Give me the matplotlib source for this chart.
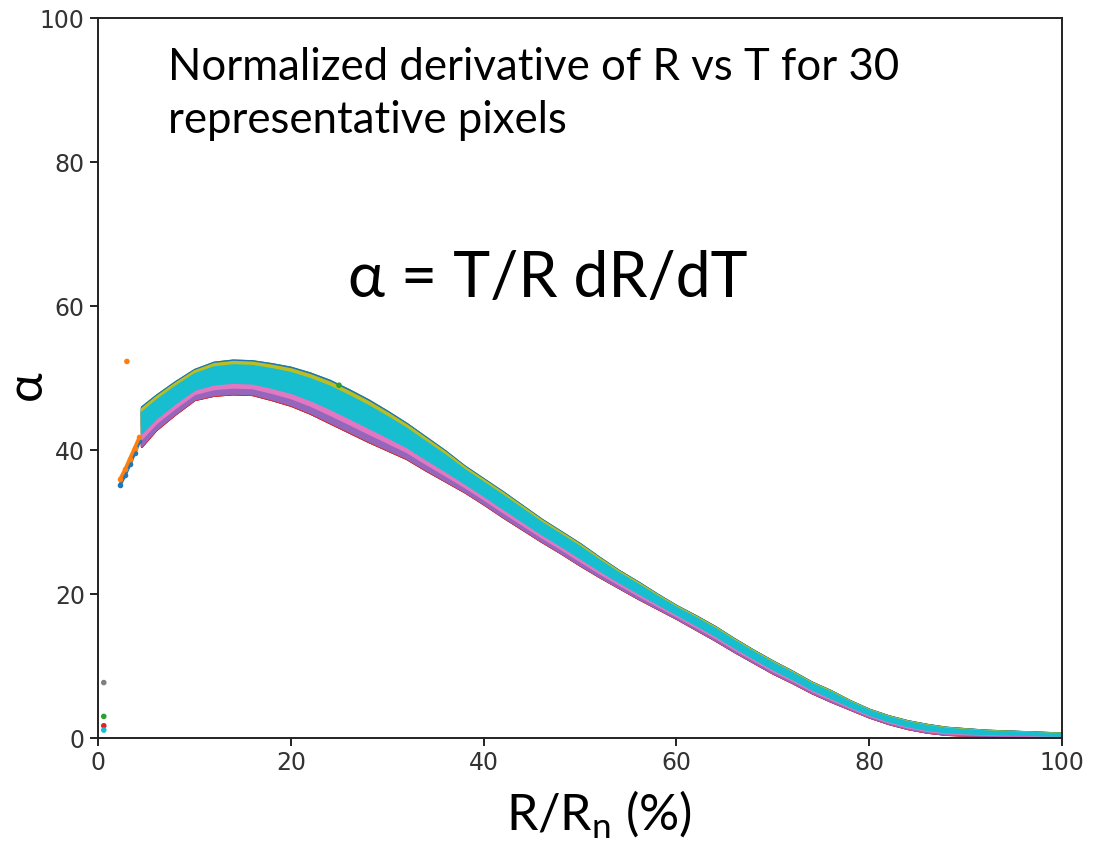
import numpy as np
import matplotlib
matplotlib.use("Agg")
import matplotlib.pyplot as plt

# ---- data ----
# R/Rn (%) sample positions along the band
x_pct = [4.5, 6, 8, 10, 12, 14, 16, 18, 20, 22, 24, 26, 28, 30, 32, 34, 36, 38, 40,
         42, 44, 46, 48, 50, 52, 54, 56, 58, 60, 62, 64, 66, 68, 70, 72, 74, 76, 78,
         80, 82, 84, 86, 88, 90, 92, 94, 96, 98, 100]
# lower and upper edge of the band of 30 pixels (alpha)
alpha_low = [40.5, 42.8, 45.0, 47.0, 47.6, 47.8, 47.7, 47.0, 46.2, 45.1, 43.8, 42.5, 41.2,
             40.0, 38.8, 37.2, 35.7, 34.2, 32.5, 30.7, 29.0, 27.3, 25.7, 24.0, 22.4, 20.9,
             19.4, 18.0, 16.6, 15.1, 13.6, 12.0, 10.5, 9.0, 7.7, 6.3, 5.1, 4.0, 2.9, 2.0,
             1.3, 0.8, 0.5, 0.4, 0.35, 0.3, 0.3, 0.2, 0.2]
alpha_high = [46.0, 47.6, 49.5, 51.2, 52.2, 52.5, 52.4, 52.0, 51.5, 50.7, 49.7, 48.4, 47.0,
              45.4, 43.7, 41.8, 39.9, 37.8, 36.0, 34.2, 32.3, 30.4, 28.7, 27.0, 25.1, 23.3,
              21.7, 20.0, 18.4, 17.0, 15.5, 13.8, 12.2, 10.7, 9.3, 7.8, 6.6, 5.2, 4.0, 3.1,
              2.4, 1.9, 1.5, 1.3, 1.1, 1.0, 0.9, 0.8, 0.7]
# where each of the 30 pixels sits inside the band (0 = lower edge, 1 = upper edge)
pixel_pos = [0.85, 0.70, 0.92, 0.04, 0.14, 0.30, 0.18, 0.45, 0.62, 0.75,
             0.88, 0.35, 0.66, 0.08, 0.22, 0.50, 0.26, 0.80, 0.40, 0.55,
             0.90, 0.50, 0.78, 0.10, 0.12, 0.60, 0.30, 0.70, 0.86, 0.60]
# spread of each pixel's own points (same units as pixel_pos)
pixel_spread = [0.10] * 29 + [0.26]

# two pixels that start earlier (blue, orange)
early_x = [2.3, 2.8, 3.3, 3.8, 4.3]
early_blue = [35.2, 36.5, 38.0, 39.6, 41.2]
early_orange = [36.0, 37.3, 38.8, 40.3, 41.8]

# stray points near R/Rn = 0 and a few outliers
stray_x = [0.6, 0.6, 0.6, 0.6, 3.0, 25.0]
stray_y = [7.7, 3.0, 1.7, 1.1, 52.3, 49.0]
stray_c = ['tab:gray', 'tab:green', 'tab:red', 'tab:cyan', 'tab:orange', 'tab:green']

colors = plt.rcParams['axes.prop_cycle'].by_key()['color']
txt_font = ['Lato', 'DejaVu Sans']

fig = plt.figure(figsize=(11.07, 8.46), dpi=100)
ax = fig.add_axes([98 / 1107, 108 / 846, 964 / 1107, 720 / 846])

x = np.array(x_pct)
lo = np.array(alpha_low)
hi = np.array(alpha_high)

ax.plot(early_x, early_blue, '-o', color=colors[0], lw=2.5, ms=3)
ax.plot(early_x, early_orange, '-o', color=colors[1], lw=2.5, ms=3)

for i in range(30):
    c = colors[i % 10]
    p0 = max(pixel_pos[i] - pixel_spread[i], 0)
    p1 = min(pixel_pos[i] + pixel_spread[i], 1)
    ax.fill_between(x, lo + p0 * (hi - lo), lo + p1 * (hi - lo), color=c, lw=1.5, edgecolor=c)

ax.scatter(stray_x, stray_y, s=9, c=stray_c, zorder=3)

ax.set_xlim(0, 100)
ax.set_ylim(0, 100)
ax.set_xticks([0, 20, 40, 60, 80, 100])
ax.set_yticks([0, 20, 40, 60, 80, 100])
ax.tick_params(labelsize=17, length=6, width=1.4, colors='#222222', labelcolor='#333333')
for s in ax.spines.values():
    s.set_linewidth(1.4)
    s.set_color('#222222')

ax.set_xlabel('R/R$_\\mathregular{n}$ (%)', fontsize=36, family=txt_font)
ax.xaxis.set_label_coords(0.52, -0.07)
ax.set_ylabel('α', fontsize=36, family=txt_font)
ax.yaxis.set_label_coords(-0.05, 0.49)

fig.text(168 / 1107, 1 - 80 / 846, 'Normalized derivative of R vs T for 30',
         fontsize=31.5, family=txt_font, va='baseline')
fig.text(168 / 1107, 1 - 133 / 846, 'representative pixels',
         fontsize=31.5, family=txt_font, va='baseline')
fig.text(348 / 1107, 1 - 297 / 846, 'α = T/R dR/dT',
         fontsize=45, family=txt_font, va='baseline')

fig.savefig('out.png', dpi=100)
